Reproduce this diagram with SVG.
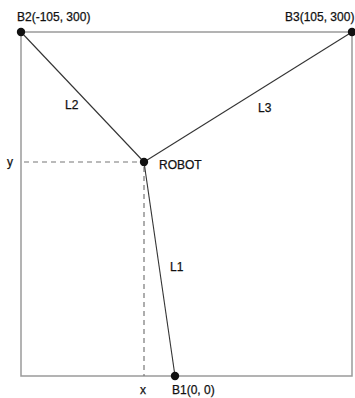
<svg xmlns="http://www.w3.org/2000/svg" width="355" height="398" viewBox="0 0 355 398">
<style>
.frame{fill:none;stroke:#9a9a9a;stroke-width:1.5}
.link{stroke:#333;stroke-width:1.1;fill:none}
.dash{stroke:#777;stroke-width:1.2;stroke-dasharray:5,4;fill:none}
.dot{fill:#111}
text{font-family:"Liberation Sans",Arial,sans-serif;font-size:12px;fill:#111;stroke:#111;stroke-width:0.25}
</style>
<rect width="355" height="398" fill="#fff"/>
<rect class="frame" x="21" y="32" width="331" height="344"/>
<g id="connectors">
<line class="dash" x1="24" y1="162" x2="141" y2="162"/>
<line class="dash" x1="144" y1="167" x2="144" y2="376"/>
<line class="link" x1="21" y1="32" x2="144" y2="162"/>
<line class="link" x1="352" y1="32" x2="144" y2="162"/>
<line class="link" x1="144" y1="162" x2="175" y2="376"/>
<text x="65" y="109">L2</text>
<text x="258" y="112">L3</text>
<text x="170" y="271">L1</text>
<text x="7" y="166">y</text>
<text x="140" y="394">x</text>
</g>
<g id="B2">
<circle class="dot" cx="21" cy="32" r="4.2"/>
<text x="17" y="21">B2(-105, 300)</text>
</g>
<g id="B3">
<circle class="dot" cx="352" cy="32" r="4.2"/>
<text x="285" y="21">B3(105, 300)</text>
</g>
<g id="ROBOT">
<circle class="dot" cx="144" cy="162" r="4.2"/>
<text x="159" y="169">ROBOT</text>
</g>
<g id="B1">
<circle class="dot" cx="175" cy="376" r="4.2"/>
<text x="172" y="394">B1(0, 0)</text>
</g>
</svg>
